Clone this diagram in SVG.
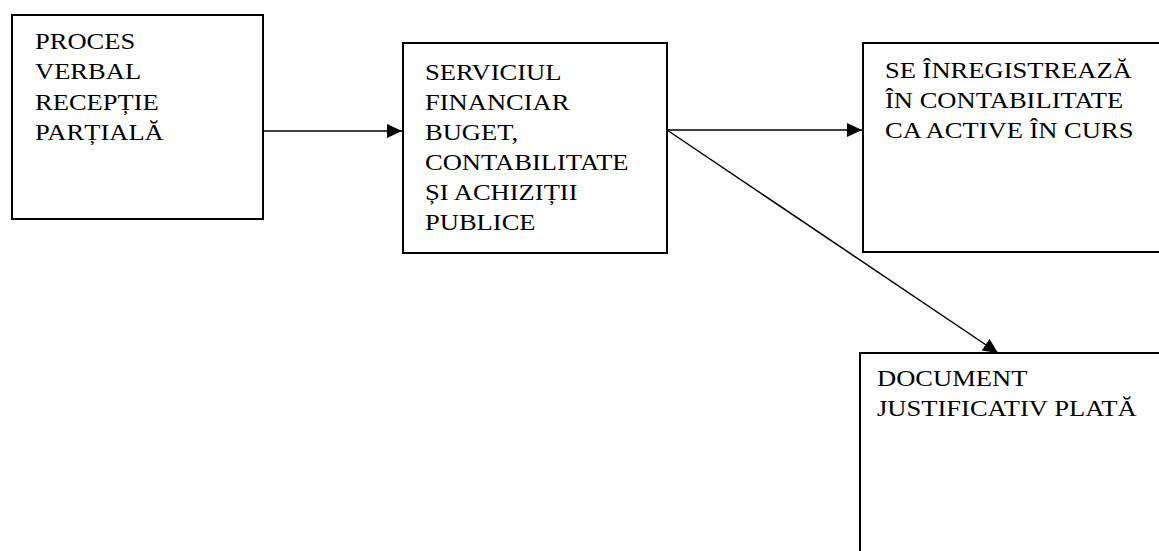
<svg xmlns="http://www.w3.org/2000/svg" width="1159" height="551" viewBox="0 0 1159 551">
<style>
.box{fill:#fff;stroke:#000;stroke-width:2}
.lbl{font-family:"Liberation Serif","Times New Roman",serif;font-size:22.5px;fill:#000}
.con{stroke:#000;stroke-width:1.5;fill:none}
</style>
<defs>
<marker id="ah" markerUnits="userSpaceOnUse" markerWidth="16" markerHeight="15" refX="15" refY="7" orient="auto">
<path d="M0,0 L15,7 L0,14 Z" fill="#000"/>
</marker>
</defs>
<rect width="1159" height="551" fill="#fff"/>
<g id="n1">
<rect class="box" x="12" y="15" width="251" height="204"/>
<g transform="translate(35,0) scale(1.18,1)">
<text class="lbl" x="0" y="49">PROCES</text>
<text class="lbl" x="0" y="79">VERBAL</text>
<text class="lbl" x="0" y="110">RECEPȚIE</text>
<text class="lbl" x="0" y="140">PARȚIALĂ</text>
</g>
</g>
<g id="n2">
<rect class="box" x="403" y="43" width="264" height="210"/>
<g transform="translate(425,0) scale(1.18,1)">
<text class="lbl" x="0" y="80">SERVICIUL</text>
<text class="lbl" x="0" y="110">FINANCIAR</text>
<text class="lbl" x="0" y="140">BUGET,</text>
<text class="lbl" x="0" y="170">CONTABILITATE</text>
<text class="lbl" x="0" y="200">ȘI ACHIZIȚII</text>
<text class="lbl" x="0" y="230">PUBLICE</text>
</g>
</g>
<g id="n3">
<rect class="box" x="863" y="43" width="310" height="209"/>
<g transform="translate(885,0) scale(1.18,1)">
<text class="lbl" x="0" y="78">SE ÎNREGISTREAZĂ</text>
<text class="lbl" x="0" y="108">ÎN CONTABILITATE</text>
<text class="lbl" x="0" y="138">CA ACTIVE ÎN CURS</text>
</g>
</g>
<g id="n4">
<rect class="box" x="860" y="353" width="320" height="220"/>
<g transform="translate(877,0) scale(1.18,1)">
<text class="lbl" x="0" y="386">DOCUMENT</text>
<text class="lbl" x="0" y="416">JUSTIFICATIV PLATĂ</text>
</g>
</g>
<g id="connectors">
<line class="con" x1="263" y1="131" x2="402" y2="131" marker-end="url(#ah)"/>
<line class="con" x1="667" y1="130" x2="862" y2="130" marker-end="url(#ah)"/>
<line class="con" x1="667" y1="130" x2="998" y2="353" marker-end="url(#ah)"/>
</g>
</svg>
